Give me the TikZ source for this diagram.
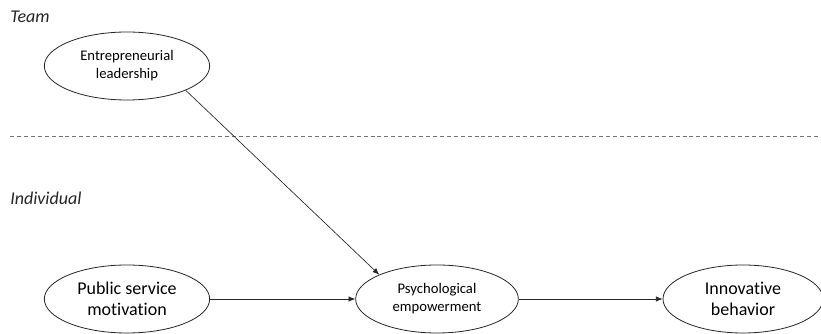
\documentclass[tikz,border=0pt]{standalone}
\usepackage{fontspec}
\setmainfont[Ligatures={NoCommon,NoContextual}, RawFeature={-liga;-calt;-clig}]{Carlito}
\usetikzlibrary{shapes.geometric,arrows.meta}

\begin{document}
\begin{tikzpicture}[node distance=174.75pt, auto]
  \tikzstyle{construct} = [ellipse, draw, black!85, text=black, line width=0.6pt, align=center, minimum width=124pt, minimum height=51pt, inner sep=0pt]
  \tikzstyle{small} = [font=\fontsize{11}{13.5}\selectfont]
  \tikzstyle{large} = [font=\fontsize{13.5}{16}\selectfont]
  \tikzstyle{level} = [font=\fontsize{13.5}{15}\selectfont\itshape, anchor=west, inner sep=0pt, text=black!85]
  \tikzstyle{path} = [draw, -{Latex[length=5pt,width=4pt]}, black!85, line width=0.5pt]

  \useasboundingbox (0,0) rectangle (615.75pt,-250.5pt);

  \node [level] (team) at (7.5pt,-12.75pt) {Team};
  \node [level] (indiv) at (7.5pt,-148.5pt) {Individual};
  \draw [black!55, line width=0.5pt, dash pattern=on 3pt off 2.2pt] (7.5pt,-102pt) -- (615.75pt,-102pt);

  \node [construct, large] (psm) at (95.25pt,-224.25pt) {Public service\\motivation};
  \node [construct, small, above of=psm] (lead) {Entrepreneurial\\leadership};
  \node [construct, small, minimum width=122pt, right of=psm, node distance=232.5pt] (emp) {Psychological\\empowerment};
  \node [construct, large, minimum width=120pt, right of=emp, node distance=229.5pt] (innov) {Innovative\\behavior};

  \path [path] (lead.south east) -- (emp.north west);
  \path [path] (psm) -- (emp);
  \path [path] (emp) -- (innov);
\end{tikzpicture}
\end{document}
